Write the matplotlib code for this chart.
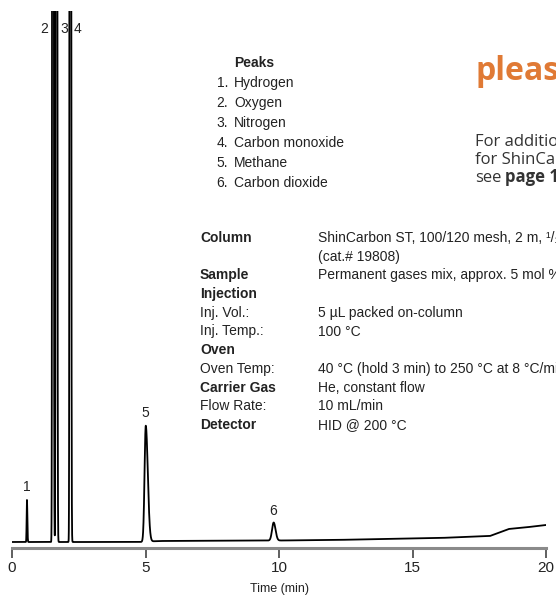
import numpy as np
import matplotlib
matplotlib.use("Agg")
import matplotlib.pyplot as plt

# peaks (time in min, height in detector units)
peak_no = ["1", "2", "3", "4", "5", "6"]
peak_rt = [0.56, 1.53, 1.66, 2.18, 5.01, 9.80]
peak_height = [42, 5000, 5000, 5000, 116, 18]
peak_sig_left = [0.012, 0.015, 0.015, 0.015, 0.045, 0.06]
peak_sig_right = [0.015, 0.019, 0.020, 0.020, 0.075, 0.07]

# baseline drift (min, units)
base_t = [0, 3, 4.8, 5.5, 10, 12, 14, 16, 17.9, 18.3, 18.6, 19.2, 20]
base_y = [0, 0, 0, 1, 1.5, 2, 3, 4, 6, 10, 13, 14.5, 17]

peak_names = ["Hydrogen", "Oxygen", "Nitrogen", "Carbon monoxide", "Methane", "Carbon dioxide"]

cond_labels = ["Column", "", "Sample", "Injection", "Inj. Vol.:", "Inj. Temp.:", "Oven",
               "Oven Temp:", "Carrier Gas", "Flow Rate:", "Detector"]
cond_bold = [True, False, True, True, False, False, True, False, True, False, True]
cond_values = ["ShinCarbon ST, 100/120 mesh, 2 m, \u00b9/\u2081\u2086\"",
               "(cat.# 19808)",
               "Permanent gases mix, approx. 5 mol %",
               "", "5 \u00b5L packed on-column", "100 \u00b0C", "",
               "40 \u00b0C (hold 3 min) to 250 \u00b0C at 8 \u00b0C/min",
               "He, constant flow", "10 mL/min", "HID @ 200 \u00b0C"]

W, H = 556, 596
fig = plt.figure(figsize=(W / 100, H / 100), dpi=100)
ax = fig.add_axes([12 / W, (H - 548) / H, 534 / W, (548 - 11) / H])

t = np.linspace(0, 20, 8001)
sig = np.interp(t, base_t, base_y)
for rt, h, sl, sr in zip(peak_rt, peak_height, peak_sig_left, peak_sig_right):
    s = np.where(t < rt, sl, sr)
    sig = sig + h * np.exp(-0.5 * ((t - rt) / s) ** 2)

ax.plot(t, sig, color="black", lw=1.3)
ax.set_xlim(0, 20)
ax.set_ylim(-6, 531)

font = ["Liberation Sans", "DejaVu Sans"]

for sp in ["left", "top", "right"]:
    ax.spines[sp].set_visible(False)
ax.spines["bottom"].set_color("#8a8a8a")
ax.spines["bottom"].set_linewidth(2.2)
ax.set_yticks([])
ax.set_xticks([0, 5, 10, 15, 20])
ax.tick_params(axis="x", length=7, width=1.2, color="#444444", pad=2, labelsize=11,
               labelcolor="#222222")
for lab in ax.get_xticklabels():
    lab.set_family(font)
ax.set_xlabel("Time (min)", fontsize=9, family=font, labelpad=6, color="#222222")

# peak numbers
for n, rt, h in zip(peak_no, peak_rt, peak_height):
    if h < 500:
        ax.text(rt - 0.02, h + 6, n, ha="center", va="bottom", fontsize=10, family=font,
                color="#222222")
ax.text(1.22, 513, "2", ha="center", va="center", fontsize=10, family=font, color="#222222")
ax.text(1.95, 513, "3", ha="center", va="center", fontsize=10, family=font, color="#222222")
ax.text(2.45, 513, "4", ha="center", va="center", fontsize=10, family=font, color="#222222")


def px(x, y):
    return x / W, 1 - y / H


# peak list
fig.text(*px(234, 63), "Peaks", ha="left", va="center", fontsize=10, fontweight="bold",
         family=font, color="#222222")
for k, name in enumerate(peak_names):
    y = 83 + 20 * k
    fig.text(*px(228, y), peak_no[k] + ".", ha="right", va="center", fontsize=10,
             family=font, color="#222222")
    fig.text(*px(234, y), name, ha="left", va="center", fontsize=10, family=font,
             color="#222222")

# conditions
for k, (lab, b, val) in enumerate(zip(cond_labels, cond_bold, cond_values)):
    y = 238 + 18.7 * k
    fig.text(*px(200, y), lab, ha="left", va="center", fontsize=10, family=font,
             fontweight="bold" if b else "normal", color="#222222")
    fig.text(*px(318, y), val, ha="left", va="center", fontsize=10, family=font,
             color="#222222")

# side note (cut by the page edge, as in the source)
fig.text(*px(475, 80), "please", ha="left", va="baseline", fontsize=23,
         fontweight="bold", family="Open Sans", color="#e07a35")
fig.text(*px(475, 146), "For additional", ha="left", va="baseline",
         fontsize=12, family="Open Sans", color="#333333")
fig.text(*px(475, 164), "for ShinCarbon", ha="left", va="baseline",
         fontsize=12, family="Open Sans", color="#333333")
fig.text(*px(475, 182), "see", ha="left", va="baseline",
         fontsize=12, family="Open Sans", color="#333333")
fig.text(*px(505, 182), "page 12", ha="left", va="baseline",
         fontsize=12, family="Open Sans", fontweight="bold", color="#333333")

fig.savefig("out.png", dpi=100)
